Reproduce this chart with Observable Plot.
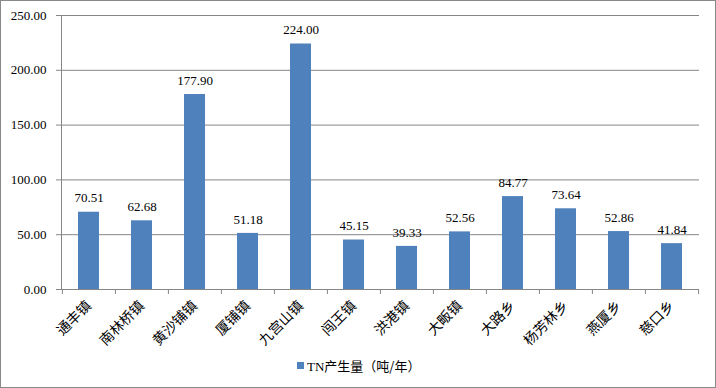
<!DOCTYPE html>
<html>
<head>
<meta charset="utf-8">
<script src="https://cdn.jsdelivr.net/npm/d3@7"></script>
<script src="https://cdn.jsdelivr.net/npm/@observablehq/plot@0.6"></script>
<style>
  html, body { margin: 0; padding: 0; background: #fff; }
  #wrap { position: relative; width: 716px; height: 388px; overflow: hidden; background: #fff; }
  #chart { position: absolute; left: 0; top: 0; }
  #border { position: absolute; left: 0; top: 0; width: 716px; height: 388px; box-sizing: border-box; border: 1px solid #898989; pointer-events: none; }
  #legend { position: absolute; left: 297px; top: 356px; font: 13px "Noto Sans CJK SC", sans-serif; color: #000; display: flex; align-items: center; white-space: nowrap; }
  #legend .sw { width: 7px; height: 7px; background: #4F81BD; margin-right: 3px; }
  #legend .tn { font-family: "Liberation Serif", serif; }
</style>
</head>
<body>
<div id="wrap">
  <div id="chart"></div>
  <div id="legend"><span class="sw"></span><span><span class="tn">TN</span>产生量（吨/年）</span></div>
  <div id="border"></div>
</div>
<script>
const towns = ["通丰镇", "南林桥镇", "黄沙铺镇", "厦铺镇", "九宫山镇", "闯王镇", "洪港镇", "大畈镇", "大路乡", "杨芳林乡", "燕厦乡", "慈口乡"];
const tnValues = [70.51, 62.68, 177.90, 51.18, 224.00, 45.15, 39.33, 52.56, 84.77, 73.64, 52.86, 41.84];
const yTicks = [0, 50, 100, 150, 200, 250];
const seriesName = "TN产生量（吨/年）";

const data = towns.map((t, i) => ({town: t, value: tnValues[i]}));

const W = 716, H = 350, ML = 61, MR = 17, MT = 15, MB = 61;
const step = (W - ML - MR) / towns.length;
const gray = "#868686";

const chart = Plot.plot({
  width: W,
  height: H,
  marginLeft: ML,
  marginRight: MR,
  marginTop: MT,
  marginBottom: MB,
  style: {background: "transparent", fontFamily: "Liberation Serif, serif", fontSize: "13px", color: "#000"},
  x: {domain: towns, paddingInner: 0.6, paddingOuter: 0.3, label: null},
  y: {domain: [0, 250], label: null},
  marks: [
    Plot.gridY(yTicks, {stroke: gray, strokeOpacity: 1}),
    Plot.axisY(yTicks, {tickFormat: d => d.toFixed(2), tickSize: 5, tickPadding: 10, stroke: gray, fontSize: 13, fontFamily: "Liberation Serif, serif", label: null}),
    Plot.barY(data, {x: "town", y: "value", fill: "#4F81BD"}),
    Plot.text(data, {x: "town", y: "value", text: d => d.value.toFixed(2), dy: -14, fontSize: 13, fontFamily: "Liberation Serif, serif", fill: "#000"}),
    Plot.frame({anchor: "left", stroke: gray}),
    Plot.ruleY([0], {stroke: gray}),
    Plot.axisX({text: null, tickSize: 5, stroke: gray, dx: -step / 2, label: null}),
    Plot.axisX([towns[towns.length - 1]], {text: null, tickSize: 5, stroke: gray, dx: step / 2, label: null}),
    Plot.axisX({tickSize: 0, tickPadding: 14, tickRotate: -45, fontSize: 14, fontFamily: "Noto Sans CJK SC, sans-serif", label: null, fill: "#000"})
  ]
});
document.getElementById("chart").appendChild(chart);
</script>
</body>
</html>
